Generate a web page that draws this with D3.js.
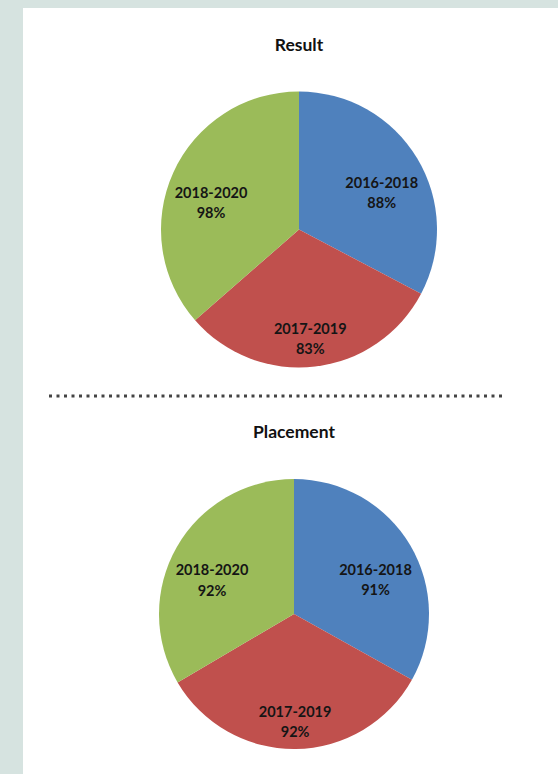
<!DOCTYPE html>
<html>
<head>
<meta charset="utf-8">
<script src="https://cdn.jsdelivr.net/npm/d3@7"></script>
<style>
  html, body { margin: 0; padding: 0; background: #d6e3e0; }
  #chart { display: block; }
</style>
</head>
<body>
<svg id="chart" width="558" height="774"></svg>
<script>
const PERIODS = ['2016-2018', '2017-2019', '2018-2020']
const COLORS = ['#4f81bd', '#c0504d', '#9bbb59']
const RESULT = [88, 83, 98]
const PLACEMENT = [91, 92, 92]

const svg = d3.select('#chart')

// white panel
svg.append('rect')
  .attr('x', 23).attr('y', 8)
  .attr('width', 535).attr('height', 766)
  .attr('fill', '#ffffff')

function drawPie(title, values, cx, cy, r, titleY) {
  svg.append('text')
    .attr('x', cx).attr('y', titleY)
    .attr('text-anchor', 'middle')
    .attr('font-family', 'Lato, "Open Sans", sans-serif')
    .attr('font-weight', 'bold')
    .attr('font-size', 17.5)
    .attr('fill', '#111')
    .text(title)

  const rows = PERIODS.map((p, i) => ({ period: p, value: values[i], color: COLORS[i] }))
  const arcs = d3.pie().sort(null).value(d => d.value)(rows)
  const arc = d3.arc().innerRadius(0).outerRadius(r)
  const labelArc = d3.arc().innerRadius(r * 0.7).outerRadius(r * 0.7)

  const g = svg.append('g').attr('transform', `translate(${cx},${cy})`)
  g.selectAll('path.slice')
    .data(arcs)
    .join('path')
    .attr('class', 'slice')
    .attr('fill', d => d.data.color)
    .attr('d', arc)

  const labels = g.selectAll('text.label')
    .data(arcs)
    .join('text')
    .attr('class', 'label')
    .attr('transform', d => {
      const [x, y] = labelArc.centroid(d)
      return `translate(${x},${y + 12})`
    })
    .attr('text-anchor', 'middle')
    .attr('font-family', 'Lato, "Open Sans", sans-serif')
    .attr('font-weight', 'bold')
    .attr('font-size', 14.5)
    .attr('fill', '#151515')
  labels.append('tspan').attr('x', 0).attr('dy', '-0.25em').text(d => d.data.period)
  labels.append('tspan').attr('x', 0).attr('dy', '1.4em').text(d => d.data.value + '%')
}

drawPie('Result', RESULT, 299, 229.5, 138, 51)

// dotted divider
svg.append('line')
  .attr('x1', 49).attr('x2', 505)
  .attr('y1', 396).attr('y2', 396)
  .attr('stroke', '#444')
  .attr('stroke-width', 3)
  .attr('stroke-dasharray', '3 4.5')

drawPie('Placement', PLACEMENT, 294, 614, 135, 438)
</script>
</body>
</html>
